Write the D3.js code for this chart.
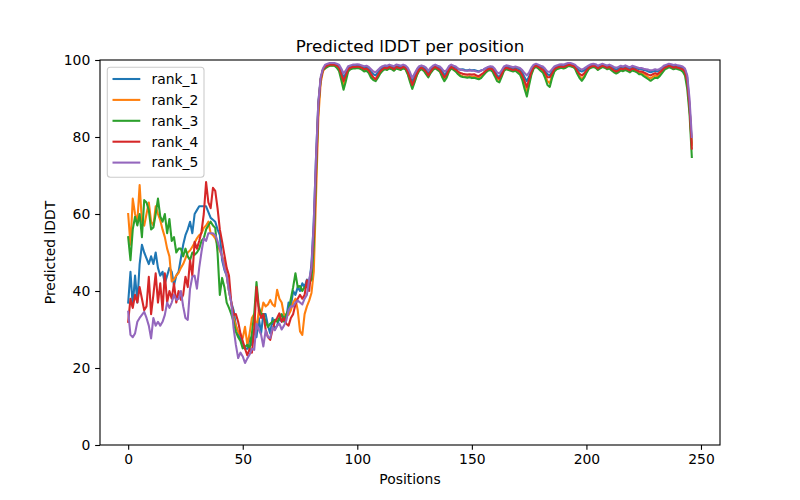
<!DOCTYPE html>
<html><head><meta charset="utf-8">
<script src="https://cdn.jsdelivr.net/npm/d3@7"></script>
<style>body{margin:0;background:#fff}svg{font-family:"DejaVu Sans",sans-serif}</style>
</head><body><svg id="c" width="800" height="500"></svg>
<script>
const seriesNames = ["rank_1","rank_2","rank_3","rank_4","rank_5"];
const seriesColors = ["#1f77b4","#ff7f0e","#2ca02c","#d62728","#9467bd"];
const xTicks = [0,50,100,150,200,250];
const yTicks = [0,20,40,60,80,100];

const rank1 = [
37,45,36,44,37,47,52,50,48.5,47,
49,47,50,46,44,45,42,44,46,45,
41.5,44,45,48.5,52,54.5,56,58,55,60,
61,62,62,62,62,60.5,59,58.5,58,56,
54.5,48,45.5,44,40,37,35,31,29,27.5,
26.5,25,25,28,26,30,28,33,29,34,
34,31,29,33,30,31,33,32,34,33,
37,36,40,39,41,40,42,41,43,42,
47,58,75,89,95,97.5,
98.5,98.8,99,99,
99,98.8,98.5,97,95.5,96.5,98,98.3,98.5,98.5,
98.6,98.5,98.3,98,98.2,97.8,97,96.3,96,96.8,
97.5,98,98.3,98.2,98.5,98.3,98,98.5,98.4,98.2,
98.5,98.3,97.5,96,94.5,95.8,97,98,98.3,98,
97.5,96.5,97.5,98.2,98.5,98.2,98,97.2,96,96.8,
98,98.5,98.2,98,97.6,97.5,97.6,97.4,97.3,97.5,
97.3,97.4,97.2,97,97.3,97.5,97.8,98,98.2,98,
97.2,96,95.5,96.8,98,98.3,98.2,98,97.8,98,
97.8,97.5,96.8,95.5,94.5,95.8,97.5,98.5,98.8,98.5,
98.2,98,97.2,96.3,96,97,98,98.3,98.5,98.6,
98.5,98.7,99,99,98.8,98.5,97.8,97.2,97,97.3,
97.8,98.3,98.6,98.8,98.6,98.2,98.5,98.8,98.6,98.3,
98.5,98.2,97.8,97.5,97.8,98.2,98,98.3,98,97.8,
98.2,98,97.8,97.6,97.6,97.4,97.3,97,96.8,97,
97.2,97,97.4,97.8,98.3,98.5,98.8,98.6,98.4,98.5,
98.3,98.2,98,97.5,95.5,88,78.5];

const rank2 = [
60,52,64,60,58,67.5,58,57,60,63,
58,57,62,60,58.4,56,54,51,49,42.5,
43,44,44.7,46,47,48.5,50,50.5,51.5,52.5,
53.7,54.5,55,56.4,57,58,55,54.5,53.7,52,
50.5,49,47.6,44,40,37,33,31,29.4,28.5,
27.8,30.7,26,29,33,34,30,35,34,37,
36,36.5,37.7,36.5,36,40.3,38,37,33.8,33.5,
33.8,35,37,38,35,29.5,28.6,34,36,37.5,
39.5,45,65,85,94,97,
98,98.4,98.6,98.6,
98.6,98.2,97.6,95.6,93.5,95.5,97.3,97.8,98,98,
98.1,98,97.7,97.3,97.5,97,95.8,95.2,95,95.8,
96.8,97.4,97.8,97.6,98,97.8,97.4,98,97.8,97.6,
98,97.8,96.6,94.8,93,94.6,96.2,97.4,97.8,97.4,
96.6,95.8,96.8,97.6,98,97.6,97.2,96,95,95.8,
97.3,98,97.6,97.2,96.5,96,95.8,95.7,95.6,95.8,
95.6,95.7,95.5,95.3,95.6,96.2,96.9,97.4,97.6,97.3,
96.2,95,94.8,96,97.4,97.8,97.6,97.4,97.2,97.4,
97,96.6,95.5,93.5,92,94.3,96.6,98,98.3,98,
97.5,97.2,96,94.5,94,95.8,97.3,97.8,98,98.1,
98,98.2,98.5,98.5,98.3,98,96.8,95.8,95,95.8,
96.9,97.8,98.1,98.3,98.1,97.6,98,98.3,98.1,97.8,
98,97.5,97,96.8,97,97.5,97.3,97.6,97.3,97,
97.5,97.3,97,96.6,96.6,96.3,96,95.5,95.2,95.6,
96,95.8,96.3,97,97.7,98,98.3,98.1,97.8,98,
97.8,97.6,97.3,96.8,94,87.5,78];

const rank3 = [
54,48,56,59.3,57,60,54,63.6,63,61,
56,56.5,60,64,59.4,58,60,55,58.7,53,
54,50,51,51,49,51,49,48,50,49.4,
50,51,53,53.7,56,57,58,57,56.4,50,
39,43.4,41,37,35.6,34,32,29.4,28,27,
25.1,25.5,26,25,29,34,42.3,36,34,34,
32,30.7,31.5,32,32.5,32,33,34,32,34,
35,38,41,44.6,41,41.3,40,41,41,42,
43,52,70,88,95,97.5,
97.8,98.2,98.5,98.5,
98.5,98,97.2,94.8,92.3,94.5,97,97.6,97.8,97.8,
97.9,97.8,97.5,97,97.2,96.6,95.4,94.8,94.5,95.4,
96.5,97.2,97.6,97.4,97.8,97.6,97.2,97.8,97.6,97.4,
97.8,97.6,96.3,94.3,92.5,94.2,96,97.2,97.6,97.2,
96.3,95.5,96.6,97.4,97.8,97.4,97,95.6,94.5,95.4,
97,97.8,97.4,97,96.3,95.8,95.6,95.5,95.4,95.5,
95.3,95.4,95.2,95,95.3,96,96.7,97.2,97.4,97,
95.8,94.5,94.2,95.6,97.2,97.6,97.4,97.2,97,97.2,
96.7,96.2,94.8,92.5,90.5,93.5,96.2,97.8,98.2,97.8,
97.2,96.7,95.3,93.5,93,95.3,97,97.6,97.8,98,
97.8,98,98.4,98.4,98.2,97.8,96.4,95.3,94.6,95.4,
96.6,97.6,98,98.2,98,97.4,97.8,98.2,98,97.6,
97.8,97.3,96.8,96.5,96.8,97.3,97.1,97.4,97.1,96.8,
97.3,97.1,96.8,96.3,96.3,95.8,95.4,95,94.6,95,
95.4,95.3,95.8,96.6,97.4,97.8,98.1,97.9,97.6,97.8,
97.6,97.4,97,96,92.5,86,74.8];

const rank4 = [
32,38,35.6,39,37,41,38,35,36,43.7,
34,39,44.6,37,42,35,44.6,37,40,38,
42,37,40,37.7,39,43.7,41,48,44,52.8,
51,53,55.4,60,68.3,63,61.5,66.8,66,61.5,
56,52.8,49.4,46,44,37,33.8,34,32,29,
27,25,23.3,25,24,30,41,35,33,34,
30,28,27.3,30,32,33,34.2,32,33,31.5,
31,33,34,36.5,38,39,38,39,42.8,40,
46,55,72,88,95,97.5,
98.2,98.6,98.8,98.8,
98.8,98.5,98,96.3,94.5,96,97.6,98,98.2,98.2,
98.3,98.2,98,97.6,97.8,97.3,96.3,95.5,95,96,
97,97.6,98,97.8,98.2,98,97.6,98.2,98,97.8,
98.2,98,97,95.3,93.5,95,96.5,97.6,98,97.6,
97,96,97,97.8,98.2,97.8,97.5,96.5,95.5,96.2,
97.6,98.2,97.8,97.5,97,96.6,96.4,96.3,96.2,96.3,
96.2,96.3,96,95.8,96.2,96.6,97.2,97.6,97.8,97.6,
96.6,95.5,95.2,96.3,97.6,98,97.8,97.6,97.4,97.6,
97.3,97,96,94.5,93,95,97,98.2,98.5,98.2,
97.8,97.5,96.6,95.5,95.5,96.5,97.6,98,98.2,98.3,
98.2,98.4,98.7,98.7,98.5,98.2,97.2,96.4,96,96.5,
97.3,98,98.3,98.5,98.3,97.8,98.2,98.5,98.3,98,
98.2,97.8,97.3,97,97.3,97.8,97.6,97.9,97.6,97.3,
97.8,97.6,97.3,97,97,96.8,96.5,96.2,96,96.3,
96.6,96.3,96.8,97.3,98,98.2,98.5,98.3,98,98.2,
98,97.8,97.6,97,94.5,88,77];

const rank5 = [
34.6,28.6,28,29,32,33,33.8,34.6,33,31,
27.7,33,31,32,31,32,33.8,37,35.6,37,
39,37.7,38,40,36,33,32.5,40.6,43.7,44,
40.6,46,50.2,53.7,53,55,55,55,54.5,53,
51,49,46,44,40,37,30.4,26,22.6,24,
23,21.3,22.5,23.5,25,24.7,31.5,30,28.7,25.6,
29.8,28,27.8,30.6,29.8,31,31.5,30,31,32.3,
35,36,36,37,37.5,37,36.5,38,39,43,
46,58,75,89,95.5,97.8,
98.8,99,99.2,99.2,
99.2,99,98.8,97.8,96.5,97.3,98.4,98.6,98.8,98.8,
98.9,98.8,98.6,98.4,98.5,98.2,97.6,97,96.8,97.4,
98,98.4,98.6,98.5,98.8,98.6,98.4,98.8,98.7,98.5,
98.8,98.6,98,96.8,95.3,96.5,97.6,98.4,98.6,98.4,
98,97.2,98,98.5,98.8,98.5,98.3,97.7,97,97.4,
98.4,98.8,98.5,98.3,97.8,97.5,97.4,97.2,97.2,97.3,
97.2,97.2,97,96.9,97.2,97.5,97.9,98.2,98.4,98.3,
97.7,96.8,96.5,97.3,98.3,98.6,98.5,98.3,98.1,98.3,
98.1,97.9,97.4,96.6,96,96.8,98,98.8,99,98.8,
98.5,98.3,97.7,97,96.9,97.6,98.3,98.6,98.8,98.9,
98.8,99,99.2,99.2,99,98.8,98.2,97.8,97.5,97.8,
98.2,98.6,98.9,99,98.9,98.5,98.8,99,98.8,98.6,
98.8,98.5,98.2,98,98.2,98.5,98.3,98.6,98.3,98.1,
98.5,98.3,98.1,97.9,97.9,97.7,97.6,97.5,97.3,97.4,
97.6,97.4,97.7,98.1,98.6,98.8,99,98.9,98.7,98.8,
98.6,98.5,98.3,97.8,96,90,80];

const seriesValues = [rank1, rank2, rank3, rank4, rank5];

const svg = d3.select("#c");
const L = 100, R = 720, T = 60, B = 445;
const n = rank1.length;
const xmax = n - 1, pad = xmax * 0.05;
const x = d3.scaleLinear().domain([-pad, xmax + pad]).range([L, R]);
const y = d3.scaleLinear().domain([0, 100]).range([B, T]);

// lines
const line = d3.line().x((d, i) => x(i)).y(d => y(d));
const lines = svg.append("g");
seriesValues.forEach((vals, k) => {
  lines.append("path").attr("d", line(vals)).attr("fill", "none")
    .attr("stroke", seriesColors[k]).attr("stroke-width", 2.08)
    .attr("stroke-linejoin", "round").attr("stroke-linecap", "square");
});

// frame
svg.append("rect").attr("x", L).attr("y", T).attr("width", R - L).attr("height", B - T)
  .attr("fill", "none").attr("stroke", "#000").attr("stroke-width", 1.1);

// axes
const xAxis = d3.axisBottom(x).tickValues(xTicks).tickSize(4.86).tickPadding(4.5);
const gx = svg.append("g").attr("transform", `translate(0,${B})`).call(xAxis);
const yAxis = d3.axisLeft(y).tickValues(yTicks).tickSize(4.86).tickPadding(4.86);
const gy = svg.append("g").attr("transform", `translate(${L},0)`).call(yAxis);
[gx, gy].forEach(g => {
  g.select(".domain").remove();
  g.selectAll("line").attr("stroke", "#000").attr("stroke-width", 1.1);
  g.selectAll("text").attr("font-family", "DejaVu Sans").attr("font-size", 13.9).attr("fill", "#000");
});

// labels
svg.append("text").attr("x", (L + R) / 2).attr("y", 51.7).attr("text-anchor", "middle")
  .attr("font-size", 16.7).text("Predicted lDDT per position");
svg.append("text").attr("x", (L + R) / 2).attr("y", 484).attr("text-anchor", "middle")
  .attr("font-size", 13.9).text("Positions");
svg.append("text").attr("transform", `translate(55,${(T + B) / 2}) rotate(-90)`)
  .attr("text-anchor", "middle").attr("font-size", 13.9).text("Predicted lDDT");

// legend
const lg = svg.append("g");
lg.append("rect").attr("x", 107.3).attr("y", 67.3).attr("width", 96.7).attr("height", 110)
  .attr("rx", 3).attr("fill", "#fff").attr("fill-opacity", 0.8)
  .attr("stroke", "#cccccc").attr("stroke-width", 1.1);
seriesNames.forEach((name, k) => {
  const yy = 79 + k * 20.9;
  lg.append("line").attr("x1", 112.5).attr("x2", 140.3).attr("y1", yy).attr("y2", yy)
    .attr("stroke", seriesColors[k]).attr("stroke-width", 2.08);
  lg.append("text").attr("x", 151.5).attr("y", yy).attr("dy", "0.35em")
    .attr("font-size", 13.9).text(name);
});
</script></body></html>
